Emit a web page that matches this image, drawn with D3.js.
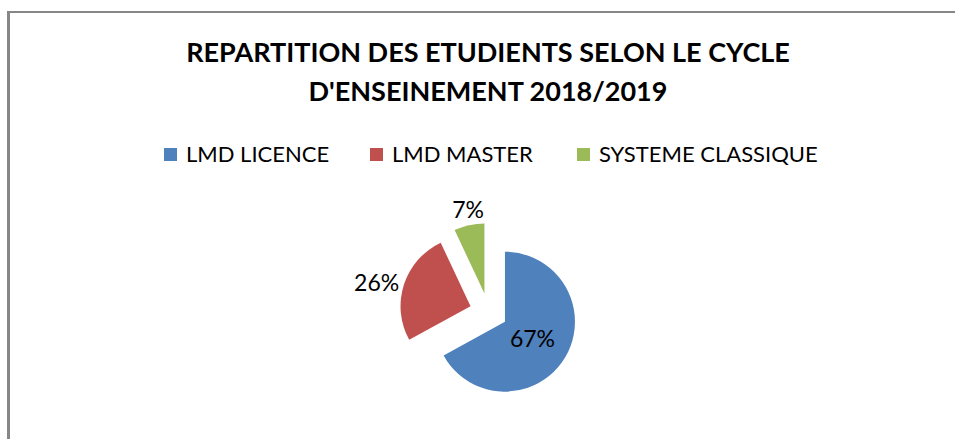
<!DOCTYPE html>
<html lang="fr">
<head>
<meta charset="utf-8"/>
<script src="https://cdn.jsdelivr.net/npm/d3@7"></script>
<style>
  body { margin: 0; background: #fff; }
  svg { display: block; font-family: Lato, "Open Sans", sans-serif; }
</style>
</head>
<body>
<script>
  // donnees
  var categories = ["LMD LICENCE", "LMD MASTER", "SYSTEME CLASSIQUE"];
  var values = [67, 26, 7];
  var colors = ["#4F81BD", "#C0504D", "#9BBB59"];
  var titleLines = ["REPARTITION DES ETUDIENTS SELON LE CYCLE", "D'ENSEINEMENT 2018/2019"];

  var w = 955, h = 439;
  var svg = d3.select("body").append("svg")
      .attr("width", w)
      .attr("height", h);

  // cadre du graphique (bord droit et bas hors champ)
  svg.append("line")
      .attr("x1", 8.5).attr("y1", 11).attr("x2", 8.5).attr("y2", h)
      .style("stroke", "#878787").style("stroke-width", 3);
  svg.append("line")
      .attr("x1", 7).attr("y1", 12).attr("x2", w).attr("y2", 12)
      .style("stroke", "#878787").style("stroke-width", 2);

  var cx = 488;
  svg.selectAll("text.title")
      .data(titleLines)
    .enter().append("text")
      .attr("class", "title")
      .attr("x", cx)
      .attr("y", function(d, i) { return 62 + i * 39; })
      .attr("text-anchor", "middle")
      .style("font-weight", "bold")
      .style("font-size", "27px")
      .style("fill", "#000")
      .text(function(d) { return d; });

  // legende
  var legendX = d3.scaleOrdinal()
      .domain(categories)
      .range([164, 370, 577]);
  var leg = svg.selectAll("g.leg")
      .data(categories)
    .enter().append("g")
      .attr("class", "leg")
      .attr("transform", function(d) { return "translate(" + legendX(d) + ",148)"; });
  leg.append("rect")
      .attr("width", 13).attr("height", 13)
      .style("fill", function(d, i) { return colors[i]; });
  leg.append("text")
      .attr("x", 22).attr("y", 13.5)
      .style("font-size", "22px")
      .style("fill", "#000")
      .text(function(d) { return d; });

  // camembert eclate
  var r = 70, explode = 19;
  var center = [488.6, 312];
  var pie = d3.pie().sort(null)(values);
  var arc = d3.arc().innerRadius(0).outerRadius(r);
  var total = d3.sum(values);

  var slices = svg.append("g")
      .attr("transform", "translate(" + center + ")")
      .selectAll("g")
      .data(pie)
    .enter().append("g")
      .attr("transform", function(d) {
        var a = (d.startAngle + d.endAngle) / 2;
        return "translate(" + (Math.sin(a) * explode) + "," + (-Math.cos(a) * explode) + ")";
      });

  slices.append("path")
      .attr("d", arc)
      .style("fill", function(d, i) { return colors[i]; });

  slices.append("text")
      .attr("transform", function(d, i) {
        var a = (d.startAngle + d.endAngle) / 2;
        var ux = Math.sin(a), uy = -Math.cos(a);
        if (i == 0) return "translate(" + (ux * 32) + "," + (uy * 32) + ")";
        return "translate(" + (ux * (r + 5)) + "," + (uy * (r + 7)) + ")";
      })
      .attr("text-anchor", function(d, i) {
        var ux = Math.sin((d.startAngle + d.endAngle) / 2);
        if (i == 0) return "middle";
        return ux < -0.5 ? "end" : (ux > 0.5 ? "start" : "middle");
      })
      .attr("dy", function(d, i) {
        var uy = -Math.cos((d.startAngle + d.endAngle) / 2);
        if (i == 0) return "0.38em";
        return uy < -0.5 ? "0em" : (uy > 0.5 ? "0.75em" : "0.38em");
      })
      .style("font-size", "23px")
      .style("fill", "#000")
      .text(function(d) { return Math.round(d.value / total * 100) + "%"; });
</script>
</body>
</html>
